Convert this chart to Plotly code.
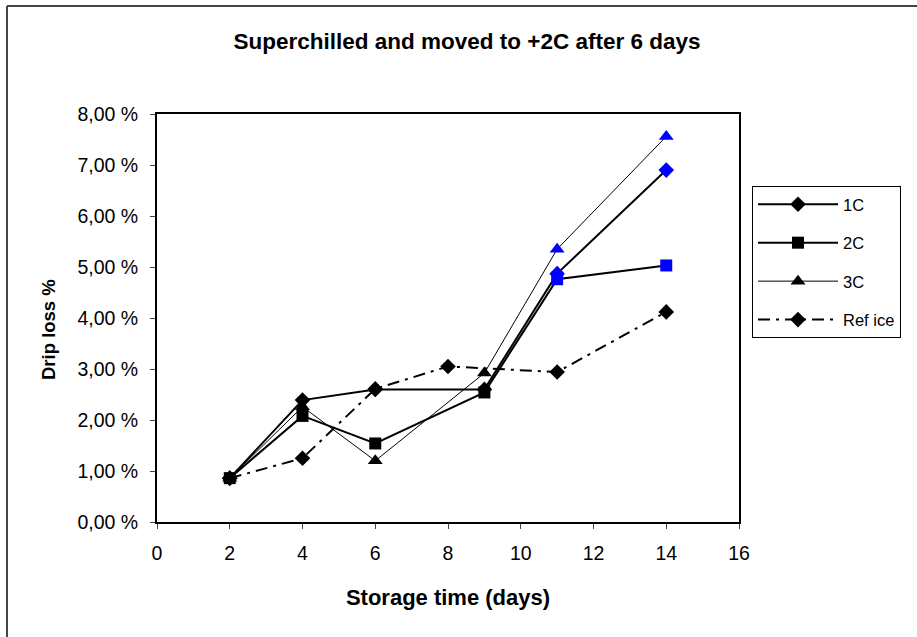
import plotly.graph_objects as go

days = [2, 4, 6, 9, 11, 14]
ref_days = [2, 4, 6, 8, 11, 14]
c1 = [0.86, 2.39, 2.60, 2.60, 4.87, 6.90]
c2 = [0.86, 2.08, 1.54, 2.54, 4.76, 5.03]
c3 = [0.86, 2.26, 1.20, 2.92, 5.35, 7.56]
ref_ice = [0.86, 1.25, 2.61, 3.05, 2.94, 4.12]
pt_colors = ["black", "black", "black", "black", "#0000FF", "#0000FF"]
y_ticks = [0, 1, 2, 3, 4, 5, 6, 7, 8]
y_ticktext = ["0,00 %", "1,00 %", "2,00 %", "3,00 %", "4,00 %", "5,00 %", "6,00 %", "7,00 %", "8,00 %"]
x_ticks = [0, 2, 4, 6, 8, 10, 12, 14, 16]

font = "Liberation Sans, Arial, sans-serif"

W, H = 917, 637
L, R, T, B = 157, 178, 114, 115
pw, ph = W - L - R, H - T - B

fig = go.Figure()
fig.add_trace(go.Scatter(x=days, y=c1, name="1C", mode="lines+markers", legendgroup="a",
                         line=dict(color="black", width=2),
                         marker=dict(symbol="diamond", size=12, color=pt_colors)))
fig.add_trace(go.Scatter(x=days, y=c2, name="2C", mode="lines+markers", legendgroup="b",
                         line=dict(color="black", width=2),
                         marker=dict(symbol="square", size=12, color=pt_colors)))
fig.add_trace(go.Scatter(x=days, y=c3, name="3C", mode="lines+markers", legendgroup="c",
                         line=dict(color="black", width=1),
                         marker=dict(symbol="triangle-up", size=13, color=pt_colors)))
fig.add_trace(go.Scatter(x=ref_days, y=ref_ice, name="Ref ice", mode="lines+markers", legendgroup="d",
                         line=dict(color="black", width=2, dash="12px,6px,3px,6px"),
                         marker=dict(symbol="diamond", size=12, color="black")))

fig.update_layout(
    width=W, height=H,
    margin=dict(l=L, r=R, t=T, b=B),
    paper_bgcolor="white", plot_bgcolor="white",
    font=dict(family=font, size=16, color="black"),
    title=dict(text="<b>Superchilled and moved to +2C after 6 days</b>",
               x=467 / W, xanchor="center", y=1 - 41 / H, yanchor="middle",
               font=dict(size=22.5, family=font)),
    showlegend=True,
    legend=dict(x=(752 - L) / pw, y=(H - B - 186) / ph, xanchor="left", yanchor="top",
                bordercolor="black", borderwidth=1, bgcolor="white",
                font=dict(size=16.5, family=font), itemwidth=80,
                traceorder="grouped", tracegroupgap=14),
)
fig.update_xaxes(range=[0, 16], tickvals=x_ticks, ticks="outside", ticklen=5,
                 ticklabelstandoff=8,
                 showline=True, linecolor="black", linewidth=2, mirror=True,
                 showgrid=False, zeroline=False,
                 tickfont=dict(size=19.5, family=font),
                 title=dict(text="<b>Storage time (days)</b>", font=dict(size=22, family=font), standoff=26))
fig.update_yaxes(range=[0, 8], tickvals=y_ticks, ticktext=y_ticktext, ticks="outside", ticklen=5,
                 ticklabelstandoff=8,
                 showline=True, linecolor="black", linewidth=2, mirror=True,
                 showgrid=False, zeroline=False,
                 tickfont=dict(size=19.5, family=font))

# y-axis title, placed as in the reference (slightly below the plot centre)
fig.add_annotation(text="<b>Drip loss %</b>", textangle=-90, showarrow=False,
                   xref="paper", yref="paper",
                   x=(48 - L) / pw, y=(H - B - 330) / ph, xanchor="center", yanchor="middle",
                   font=dict(size=18.5, family=font, color="black"))

# outer chart border (left and top edges visible)
top_y = (H - B - 6) / ph
left_x = (7 - L) / pw
fig.add_shape(type="line", xref="paper", yref="paper",
              x0=left_x, x1=left_x, y0=-(B + 10) / ph, y1=top_y,
              line=dict(color="#444", width=2))
fig.add_shape(type="line", xref="paper", yref="paper",
              x0=left_x, x1=(W + 10 - L) / pw, y0=top_y, y1=top_y,
              line=dict(color="#444", width=2))

fig.write_html("out.html", config={"displayModeBar": False},
               post_script="document.body.style.margin='0px';")
